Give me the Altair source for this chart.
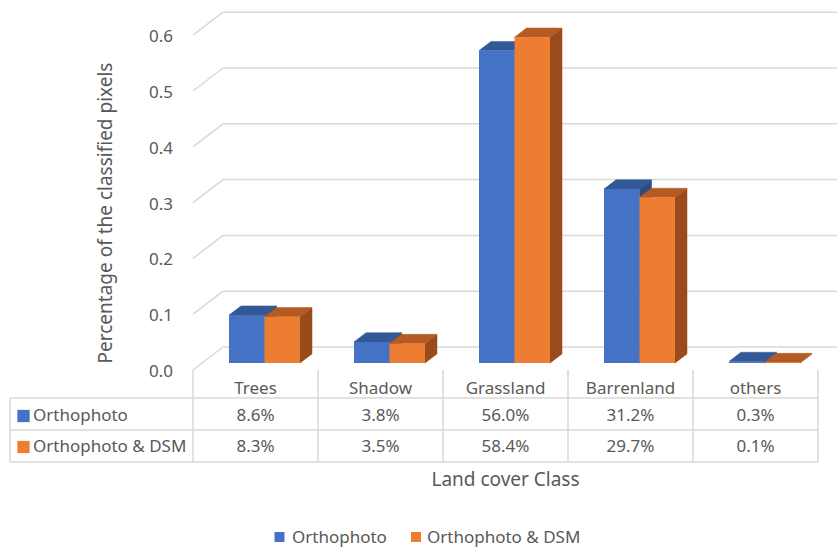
import altair as alt
import pandas as pd

# ---- chart values -------------------------------------------------------
categories = ["Trees", "Shadow", "Grassland", "Barrenland", "others"]
series = ["Orthophoto", "Orthophoto & DSM"]
ortho = [0.086, 0.038, 0.560, 0.312, 0.003]
ortho_dsm = [0.083, 0.035, 0.584, 0.297, 0.001]
y_ticks = [0.0, 0.1, 0.2, 0.3, 0.4, 0.5, 0.6]
series_values = [ortho, ortho_dsm]

# ---- styling --------------------------------------------------------------
front_colors = ["#4472C4", "#ED7D31"]
top_colors = ["#335896", "#B35B22"]
side_colors = ["#2B4B83", "#9A4B1B"]
TEXT = "#595959"
GRID = "#D9D9D9"
FONT = "Noto Sans"
FS = 17        # tick labels, table, legend
FS_TITLE = 19  # axis titles

# ---- layout (pixels) ------------------------------------------------------
W, H = 837, 549
COL = 125.0      # width of one category column
X0 = 193.0       # left edge of the first category column
Y0 = 370.0       # front edge of the floor (value 0)
PPU = 558.0      # pixels per 1.0 of value
DEPTH_DX = 30.0 / COL   # full depth of the box, in category units
DEPTH_DU = 23.0 / PPU   # full depth of the box, in value units
BAR_W = 0.284           # one bar, in category units
BAR_D0, BAR_D1 = 0.3, 0.7   # bars sit between these depth fractions

x_scale = alt.Scale(domain=[-X0 / COL, (W - X0) / COL], nice=False, zero=False)
y_scale = alt.Scale(domain=[(Y0 - H) / PPU, Y0 / PPU], nice=False, zero=False)


def px_x(p):
    return (p - X0) / COL


def X(field):
    return alt.X(field, type="quantitative", scale=x_scale, axis=None)


def Y(field):
    return alt.Y(field, type="quantitative", scale=y_scale, axis=None)


layers = []

# ---- walls: gridlines on the back wall and their diagonals on the side ----
grid = pd.DataFrame({
    "t": y_ticks,
    "xf": [0.0] * len(y_ticks),
    "xb": [DEPTH_DX] * len(y_ticks),
    "xe": [(W - X0) / COL] * len(y_ticks),
})
grid["ub"] = grid["t"] + DEPTH_DU
layers.append(
    alt.Chart(grid).mark_rule(color=GRID, strokeWidth=1.5).encode(
        x=X("xf"), y=Y("t"), x2="xb", y2="ub"
    )
)
layers.append(
    alt.Chart(grid).mark_rule(color=GRID, strokeWidth=1.5).encode(
        x=X("xb"), y=Y("ub"), x2="xe"
    )
)

# ---- 3D columns -----------------------------------------------------------
dd = BAR_D1 - BAR_D0
for s, vals in enumerate(series_values):
    fronts, tops, sides = [], [], []
    for i, (cat, v) in enumerate(zip(categories, vals)):
        left = i + 0.5 - BAR_W + s * BAR_W + BAR_D0 * DEPTH_DX
        right = left + BAR_W
        base = BAR_D0 * DEPTH_DU
        top = v + base
        bid = f"{s}-{i}"
        fronts.append({"id": bid, "x": left, "x2": right, "y": base, "y2": top})
        tops.append({"id": bid, "u": top, "xa": left, "xb": right})
        tops.append({"id": bid, "u": top + dd * DEPTH_DU,
                     "xa": left + dd * DEPTH_DX, "xb": right + dd * DEPTH_DX})
        sides.append({"id": bid, "x": right, "ya": base, "yb": top})
        sides.append({"id": bid, "x": right + dd * DEPTH_DX,
                      "ya": base + dd * DEPTH_DU, "yb": top + dd * DEPTH_DU})
    layers.append(
        alt.Chart(pd.DataFrame(sides)).mark_area(
            orient="vertical", color=side_colors[s], opacity=1,
            stroke=side_colors[s], strokeWidth=0.5
        ).encode(x=X("x"), y=Y("ya"), y2="yb", detail="id:N")
    )
    layers.append(
        alt.Chart(pd.DataFrame(tops)).mark_area(
            orient="horizontal", color=top_colors[s], opacity=1,
            stroke=top_colors[s], strokeWidth=0.5
        ).encode(y=Y("u"), x=X("xa"), x2="xb", detail="id:N")
    )
    layers.append(
        alt.Chart(pd.DataFrame(fronts)).mark_rect(
            color=front_colors[s], opacity=1
        ).encode(x=X("x"), x2="x2", y=Y("y"), y2="y2")
    )

# ---- value axis labels ----------------------------------------------------
ylab = pd.DataFrame({"t": y_ticks, "lab": [f"{t:.1f}" for t in y_ticks],
                     "x": [px_x(173)] * len(y_ticks)})
layers.append(
    alt.Chart(ylab).mark_text(align="right", baseline="middle", dy=2,
                              font=FONT, fontSize=FS, color=TEXT).encode(
        x=X("x"), y=Y("t"), text="lab:N"
    )
)

# ---- data table under the plot --------------------------------------------
cat_df = pd.DataFrame({"cat": categories, "c": [i + 0.5 for i in range(len(categories))]})
layers.append(
    alt.Chart(cat_df).mark_text(baseline="middle", font=FONT, fontSize=FS, color=TEXT).encode(
        x=X("c"), y=alt.value(389), text="cat:N"
    )
)
row_y = [416, 447]
for s, vals in enumerate(series_values):
    row = pd.DataFrame({
        "c": [i + 0.5 for i in range(len(vals))],
        "lab": [f"{v * 100:.1f}%" for v in vals],
    })
    layers.append(
        alt.Chart(row).mark_text(baseline="middle", font=FONT, fontSize=FS, color=TEXT).encode(
            x=X("c"), y=alt.value(row_y[s]), text="lab:N"
        )
    )
    key = pd.DataFrame({"name": [series[s]]})
    layers.append(
        alt.Chart(key).mark_square(size=150, color=front_colors[s], opacity=1).encode(
            x=alt.value(23.5), y=alt.value(row_y[s])
        )
    )
    layers.append(
        alt.Chart(key).mark_text(align="left", baseline="middle", font=FONT,
                                 fontSize=FS, color=TEXT).encode(
            x=alt.value(33), y=alt.value(row_y[s]), text="name:N"
        )
    )

# table borders
vlines = pd.DataFrame({"c": [float(i) for i in range(len(categories) + 1)]})
layers.append(
    alt.Chart(vlines).mark_rule(color=GRID, strokeWidth=1.5).encode(
        x=X("c"), y=alt.value(370), y2=alt.value(462)
    )
)
layers.append(
    alt.Chart(pd.DataFrame({"c": [px_x(10)]})).mark_rule(color=GRID, strokeWidth=1.5).encode(
        x=X("c"), y=alt.value(398), y2=alt.value(462)
    )
)
for yy in [398, 430, 462]:
    layers.append(
        alt.Chart(pd.DataFrame({"a": [px_x(10)], "b": [float(len(categories))]})).mark_rule(
            color=GRID, strokeWidth=1.5
        ).encode(x=X("a"), x2="b", y=alt.value(yy))
    )

# ---- titles ---------------------------------------------------------------
layers.append(
    alt.Chart(pd.DataFrame({"t": ["Land cover Class"], "c": [len(categories) / 2]})).mark_text(
        baseline="middle", font=FONT, fontSize=FS_TITLE, color=TEXT
    ).encode(x=X("c"), y=alt.value(480), text="t:N")
)
layers.append(
    alt.Chart(pd.DataFrame({"t": ["Percentage of the classified pixels"]})).mark_text(
        baseline="middle", angle=270, font=FONT, fontSize=FS_TITLE, color=TEXT
    ).encode(x=alt.value(106), y=alt.value(213), text="t:N")
)

# ---- legend ---------------------------------------------------------------
leg_sq_x = [279.5, 416]
leg_tx_x = [292, 427]
for s in range(len(series)):
    key = pd.DataFrame({"name": [series[s]]})
    layers.append(
        alt.Chart(key).mark_square(size=100, color=front_colors[s], opacity=1).encode(
            x=alt.value(leg_sq_x[s]), y=alt.value(537)
        )
    )
    layers.append(
        alt.Chart(key).mark_text(align="left", baseline="middle", font=FONT,
                                 fontSize=FS, color=TEXT).encode(
            x=alt.value(leg_tx_x[s]), y=alt.value(538), text="name:N"
        )
    )

chart = alt.layer(*layers).properties(
    width=W, height=H, padding=0,
    autosize=alt.AutoSizeParams(type="none"),
    background="white",
).configure_view(stroke=None)

chart.save("out.html", embed_options={"renderer": "svg", "actions": False})
